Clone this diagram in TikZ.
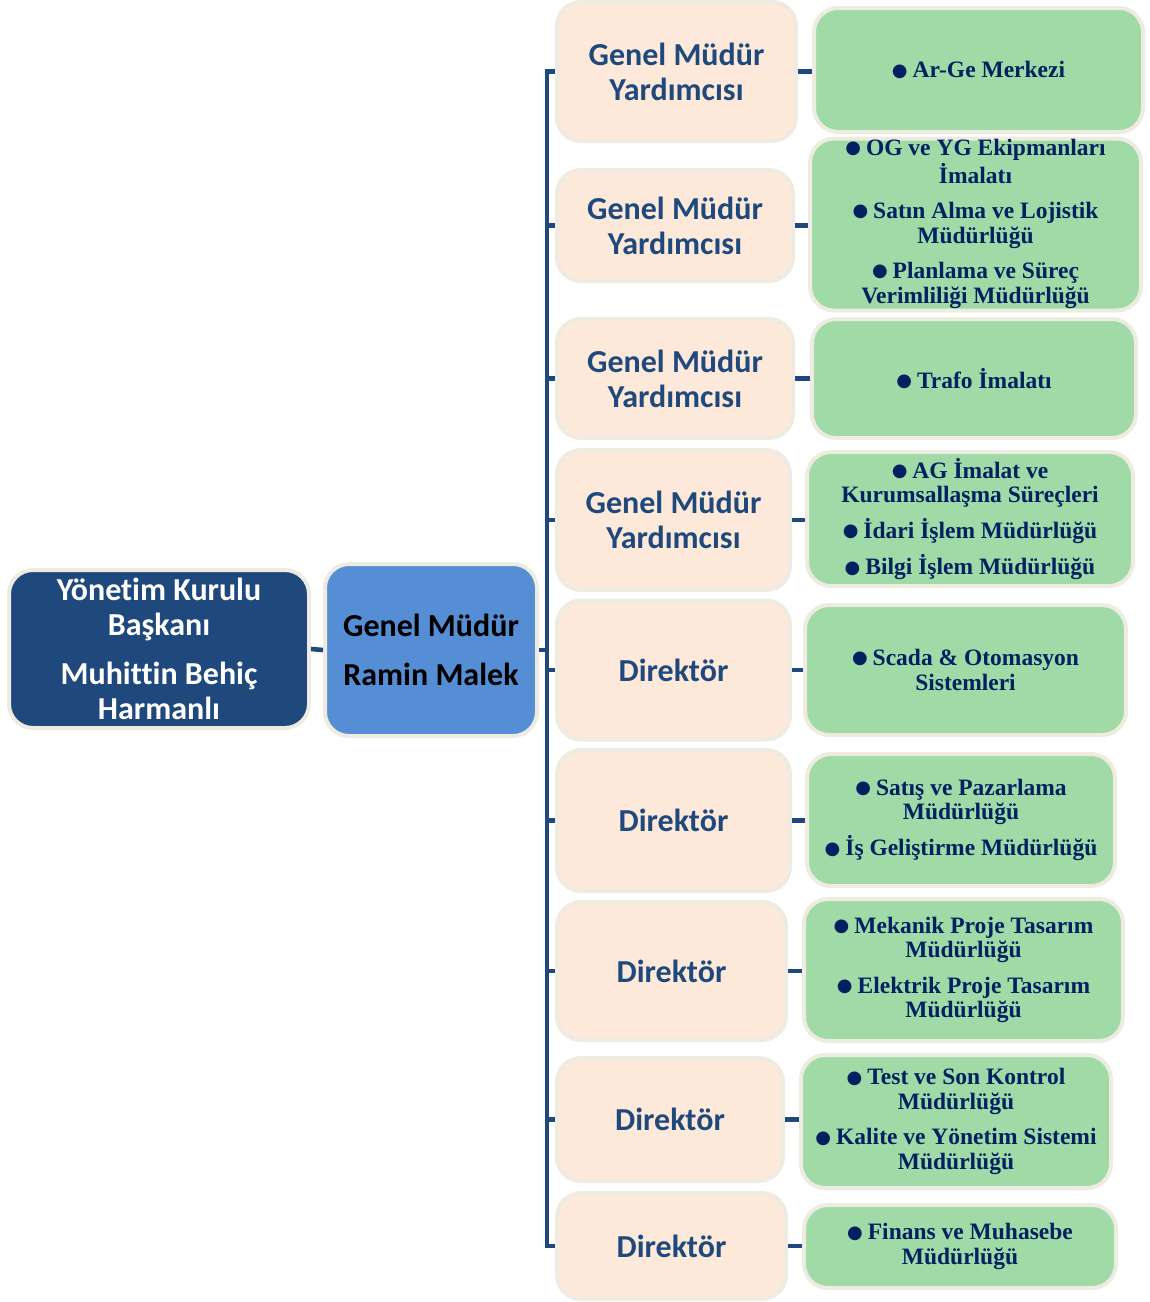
\documentclass[tikz,border=0pt]{standalone}
\usepackage{fontspec}
\setmainfont{Liberation Serif}
\newfontfamily\calfont[Ligatures=NoCommon]{Carlito}
\newfontfamily\dvsfont{DejaVu Sans}
\definecolor{bordc}{HTML}{EEECE1}
\definecolor{peachc}{HTML}{FDE9D9}
\definecolor{greenc}{HTML}{9FDAA7}
\definecolor{txtblue}{HTML}{1F497D}
\definecolor{navyc}{HTML}{002060}
\definecolor{darkbox}{HTML}{1F497D}
\definecolor{lightbox}{HTML}{558ED5}
\newcommand\blt{{\dvsfont\fontsize{18}{18}\selectfont\raisebox{1.8pt}{●}}\hspace{5pt}}
\tikzset{
  box/.style={draw=bordc, line width=4pt, rounded corners=24pt, inner sep=0pt},
  peachbox/.style={box, fill=peachc, text=txtblue, align=center,
    font=\calfont\bfseries\fontsize{32}{35}\selectfont},
  greenbox/.style={box, fill=greenc, text=navyc, align=center,
    font=\bfseries\fontsize{23.5}{24.5}\selectfont},
  topbox/.style={box, align=center, font=\calfont\bfseries\fontsize{32}{35}\selectfont},
  conn/.style={draw=txtblue, line width=4.6pt}
}
\begin{document}
\begin{tikzpicture}[x=1pt,y=-1pt]
\useasboundingbox (0,0) rectangle (1150,1302);
% left boxes
\node[topbox, fill=darkbox, text=white, minimum width=300, minimum height=158] (ykb) at (159,649)
  {Yönetim Kurulu\\Başkanı\\[14pt]Muhittin Behiç\\Harmanlı};
\node[topbox, fill=lightbox, text=black, minimum width=212, minimum height=172] (gm) at (431,650)
  {Genel Müdür\\[14pt]Ramin Malek};
% peach boxes
\node[peachbox, minimum width=239, minimum height=139] (p1) at (676.5,71.5) {Genel Müdür\\Yardımcısı};
\node[peachbox, minimum width=236, minimum height=111] (p2) at (675,225.5) {Genel Müdür\\Yardımcısı};
\node[peachbox, minimum width=236, minimum height=119] (p3) at (675,378.5) {Genel Müdür\\Yardımcısı};
\node[peachbox, minimum width=233, minimum height=140] (p4) at (673.5,520) {Genel Müdür\\Yardımcısı};
\node[peachbox, minimum width=233, minimum height=139] (p5) at (673.5,670) {Direktör};
\node[peachbox, minimum width=233, minimum height=141] (p6) at (673.5,820.5) {Direktör};
\node[peachbox, minimum width=229, minimum height=138] (p7) at (671.5,971) {Direktör};
\node[peachbox, minimum width=226, minimum height=123] (p8) at (670,1119.5) {Direktör};
\node[peachbox, minimum width=229, minimum height=106] (p9) at (671.5,1246) {Direktör};
% green boxes
\node[greenbox, minimum width=329, minimum height=124] (g1) at (978.5,70) {\blt Ar-Ge Merkezi};
\node[greenbox, minimum width=331, minimum height=161] (g2) at (975.5,224.5)
  {\raisebox{4pt}{\begin{tabular}{@{}c@{}}\blt OG ve YG Ekipmanları\\İmalatı\\[11pt]\blt Satın Alma ve Lojistik\\Müdürlüğü\\[11pt]\blt Planlama ve Süreç\\Verimliliği Müdürlüğü\end{tabular}}};
\node[greenbox, minimum width=324, minimum height=119] (g3) at (974,378.5) {\blt Trafo İmalatı};
\node[greenbox, minimum width=326, minimum height=134] (g4) at (970,519)
  {\blt AG İmalat ve\\Kurumsallaşma Süreçleri\\[10pt]\blt İdari İşlem Müdürlüğü\\[10pt]\blt Bilgi İşlem Müdürlüğü};
\node[greenbox, minimum width=321, minimum height=130] (g5) at (965.5,670) {\blt Scada \& Otomasyon\\Sistemleri};
\node[greenbox, minimum width=308, minimum height=132] (g6) at (961,820)
  {\blt Satış ve Pazarlama\\Müdürlüğü\\[10pt]\blt İş Geliştirme Müdürlüğü};
\node[greenbox, minimum width=319, minimum height=142] (g7) at (963.5,970)
  {\blt Mekanik Proje Tasarım\\Müdürlüğü\\[11pt]\blt Elektrik Proje Tasarım\\Müdürlüğü};
\node[greenbox, minimum width=310, minimum height=133] (g8) at (956,1121.5)
  {\blt Test ve Son Kontrol\\Müdürlüğü\\[11pt]\blt Kalite ve Yönetim Sistemi\\Müdürlüğü};
\node[greenbox, minimum width=312, minimum height=83] (g9) at (960,1246.5)
  {\blt Finans ve Muhasebe\\Müdürlüğü};
% connectors
\coordinate (brk) at (547,650);
\draw[conn] (ykb.east) -- (gm.west);
\draw[conn] (gm.east) -- (gm.east -| brk);
\draw[conn] (p1.west) -- (p1.west -| brk) -- (p9.west -| brk) -- (p9.west);
\foreach \i in {2,...,8} { \draw[conn] (p\i.west -| brk) -- (p\i.west); }
\foreach \i in {1,...,9} { \draw[conn] (p\i.east) -- (p\i.east -| g\i.west); }
\end{tikzpicture}
\end{document}
